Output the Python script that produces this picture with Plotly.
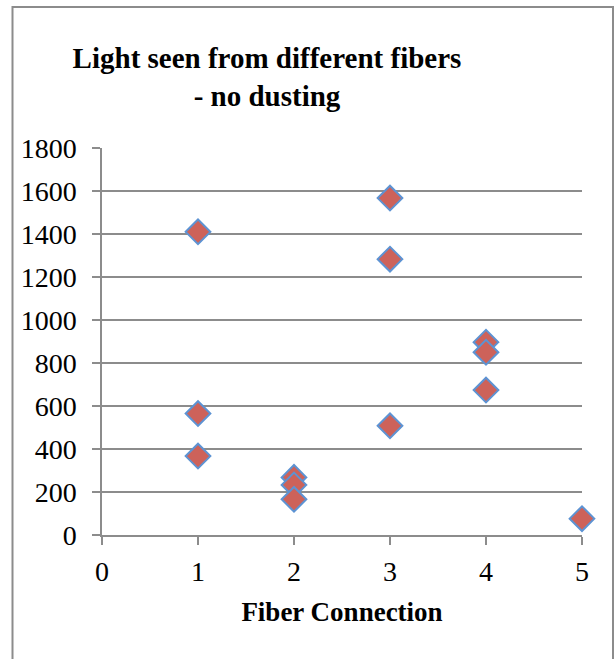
import plotly.graph_objects as go

fiber = [1, 1, 1, 2, 2, 2, 3, 3, 3, 4, 4, 4, 5]
light = [1410, 565, 367, 268, 233, 166, 1567, 1283, 508, 897, 850, 674, 76]

x_ticks = [0, 1, 2, 3, 4, 5]
y_ticks = [0, 200, 400, 600, 800, 1000, 1200, 1400, 1600, 1800]

title_text = "Light seen from different fibers<br>- no dusting"
x_title = "Fiber Connection"

W, H = 615, 659
L, R, T, B = 102, 33, 148, 124
pw, ph = W - L - R, H - T - B

def px_x(p):
    return (p - L) / pw

def px_y(p):
    return (H - B - p) / ph

FONT = "Liberation Serif"
GRID = "#8c8c8c"

fig = go.Figure()
fig.add_trace(go.Scatter(
    x=fiber, y=light, mode="markers",
    marker=dict(symbol="diamond", size=19, color="#CD625A",
                line=dict(color="#5D93D3", width=2)),
    cliponaxis=False, showlegend=False,
))

fig.update_layout(
    width=W, height=H,
    margin=dict(l=L, r=R, t=T, b=B, autoexpand=False),
    paper_bgcolor="white", plot_bgcolor="white",
    title=dict(text="<b>" + title_text + "</b>", x=267 / W, xanchor="center",
               y=1 - 68 / H, yanchor="top", yref="container",
               font=dict(family=FONT, size=29, color="black")),
    xaxis=dict(range=[0, 5], tickvals=x_ticks, showgrid=False,
               showline=True, linecolor=GRID, linewidth=1.5,
               ticks="outside", ticklen=8, tickwidth=1.5, tickcolor=GRID,
               ticklabelstandoff=3,
               tickfont=dict(family=FONT, size=28, color="black"),
               title=dict(text="<b>" + x_title + "</b>", standoff=16,
                          font=dict(family=FONT, size=27, color="black")),
               zeroline=False),
    yaxis=dict(range=[0, 1800], tickvals=y_ticks, showgrid=True,
               gridcolor=GRID, gridwidth=1.5,
               showline=True, linecolor=GRID, linewidth=1.5,
               ticks="outside", ticklen=8, tickwidth=1.5, tickcolor=GRID,
               ticklabelstandoff=10,
               tickfont=dict(family=FONT, size=28, color="black"),
               zeroline=False),
    shapes=[dict(type="rect", xref="paper", yref="paper",
                 x0=px_x(12.5), x1=px_x(613), y0=px_y(665), y1=px_y(7),
                 line=dict(color="#8c8c8c", width=2), layer="below")],
)

fig.write_html("out.html")
